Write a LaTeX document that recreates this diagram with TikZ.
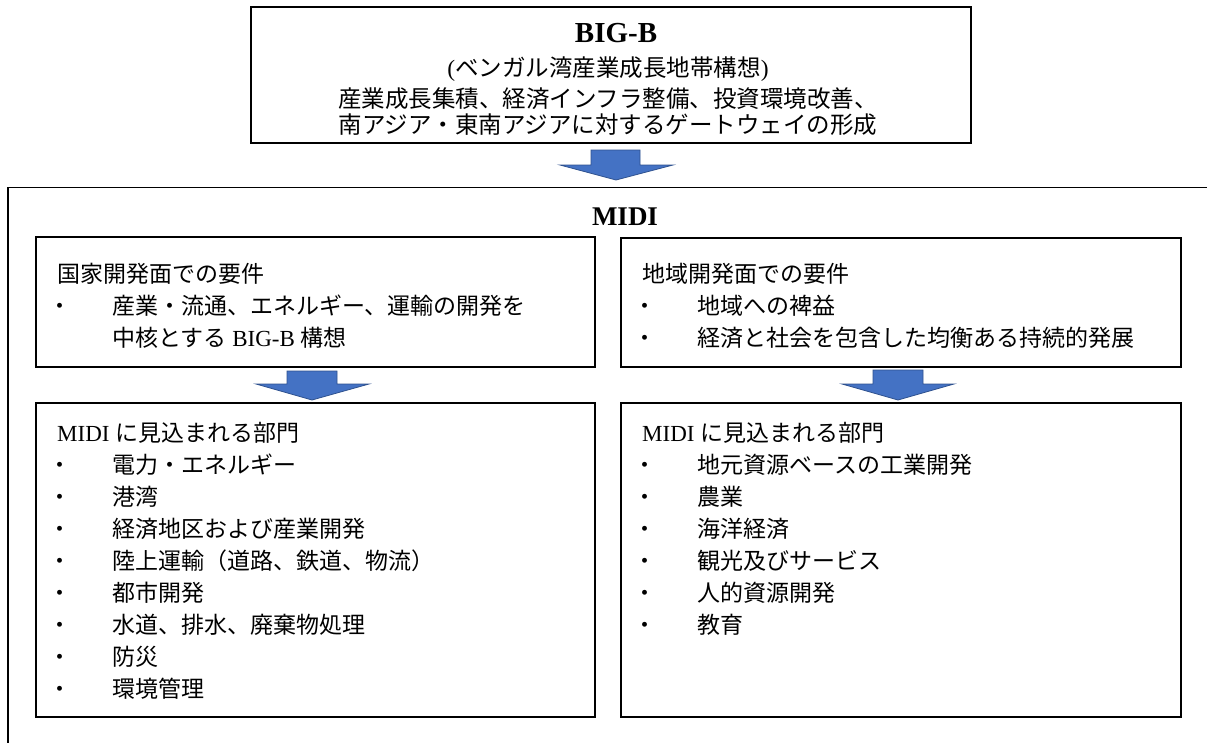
\documentclass[tikz,border=0pt]{standalone}
\usepackage{fontspec}
\setmainfont{Noto Sans CJK JP}
\newfontfamily\lat{Liberation Serif}
\usetikzlibrary{calc}
\definecolor{arrowfill}{RGB}{68,114,196}
\definecolor{arrowedge}{RGB}{47,82,143}
\tikzset{
  box/.style={draw=black, line width=1.3pt, rectangle, inner sep=0pt},
  blockarrow/.style={fill=arrowfill, draw=arrowedge, line width=0.8pt, line join=miter},
  txt/.style={anchor=base west, inner sep=0pt, font=\fontsize{23}{28}\selectfont},
  ctxt/.style={anchor=base, inner sep=0pt, font=\fontsize{23.5}{28}\selectfont},
  ttl/.style={anchor=base, inner sep=0pt, font=\fontsize{28}{32}\selectfont\lat\bfseries},
  bul/.style={anchor=base, inner sep=0pt, font=\fontsize{23}{28}\selectfont},
}
\begin{document}
\begin{tikzpicture}[x=1pt,y=-1pt]
\useasboundingbox (0,0) rectangle (1207,742);
\clip (0,0) rectangle (1207,742);
\fill[white] (0,0) rectangle (1207,742);

% top box
\node[box, minimum width=720pt, minimum height=136pt] (bigb) at (611,75) {};
\node[ttl, font=\fontsize{29}{32}\selectfont\lat\bfseries] (bigbtitle) at (616,42) {BIG-B};
\node[ctxt] (bigbsub) at (608,76) {{\lat(}ベンガル湾産業成長地帯構想{\lat)}};
\node[ctxt] (bigbl1) at (608,107) {産業成長集積、経済インフラ整備、投資環境改善、};
\node[ctxt] (bigbl2) at (608,133) {南アジア・東南アジアに対するゲートウェイの形成};

% outer MIDI box
\node[box, minimum width=1232pt, minimum height=583pt] (midi) at (624,479) {};
\node[ttl, font=\fontsize{27}{32}\selectfont\lat\bfseries] (mititle) at (625,225) {MIDI};

% upper boxes
\node[box, minimum width=559pt, minimum height=130pt] (nat) at (315.5,302) {};
\node[box, minimum width=560pt, minimum height=129pt] (reg) at (901,302.5) {};

\node[txt] (natH) at (57,282) {国家開発面での要件};
\node[bul] (natB1) at (60,314) {・};
\node[txt] (natT1) at (112,314) {産業・流通、エネルギー、運輸の開発を};
\node[txt] (natT2) at (112,346) {中核とする{\lat\ BIG-B\ }構想};

\node[txt] (regH) at (642,282) {地域開発面での要件};
\node[bul] (regB1) at (645,314) {・};
\node[txt] (regT1) at (697,314) {地域への裨益};
\node[bul] (regB2) at (645,346) {・};
\node[txt] (regT2) at (697,346) {経済と社会を包含した均衡ある持続的発展};

% lower boxes
\node[box, minimum width=559pt, minimum height=314pt] (natS) at (315.5,560) {};
\node[box, minimum width=560pt, minimum height=314pt] (regS) at (901,560) {};

\node[txt] (natSH) at (57,441) {{\lat MIDI\ }に見込まれる部門};
\foreach \t [count=\i] in {電力・エネルギー,港湾,経済地区および産業開発,陸上運輸（道路、鉄道、物流）,都市開発,水道、排水、廃棄物処理,防災,環境管理}{
  \node[bul] (natSB\i) at (60,441+32*\i) {・};
  \node[txt] (natST\i) at (112,441+32*\i) {\t};
}

\node[txt] (regSH) at (642,441) {{\lat MIDI\ }に見込まれる部門};
\foreach \t [count=\i] in {地元資源ベースの工業開発,農業,海洋経済,観光及びサービス,人的資源開発,教育}{
  \node[bul] (regSB\i) at (645,441+32*\i) {・};
  \node[txt] (regST\i) at (697,441+32*\i) {\t};
}

% block arrows
\draw[blockarrow] (591,150) -- (640,150) -- (640,165) -- (673,165) -- (616,180) -- (560,165) -- (591,165) -- cycle;
\draw[blockarrow] (287,371) -- (337,371) -- (337,384) -- (369,384) -- (312,400) -- (256,384) -- (287,384) -- cycle;
\draw[blockarrow] (873,370) -- (923,370) -- (923,384) -- (954,384) -- (898,400) -- (842,384) -- (873,384) -- cycle;
\end{tikzpicture}
\end{document}
